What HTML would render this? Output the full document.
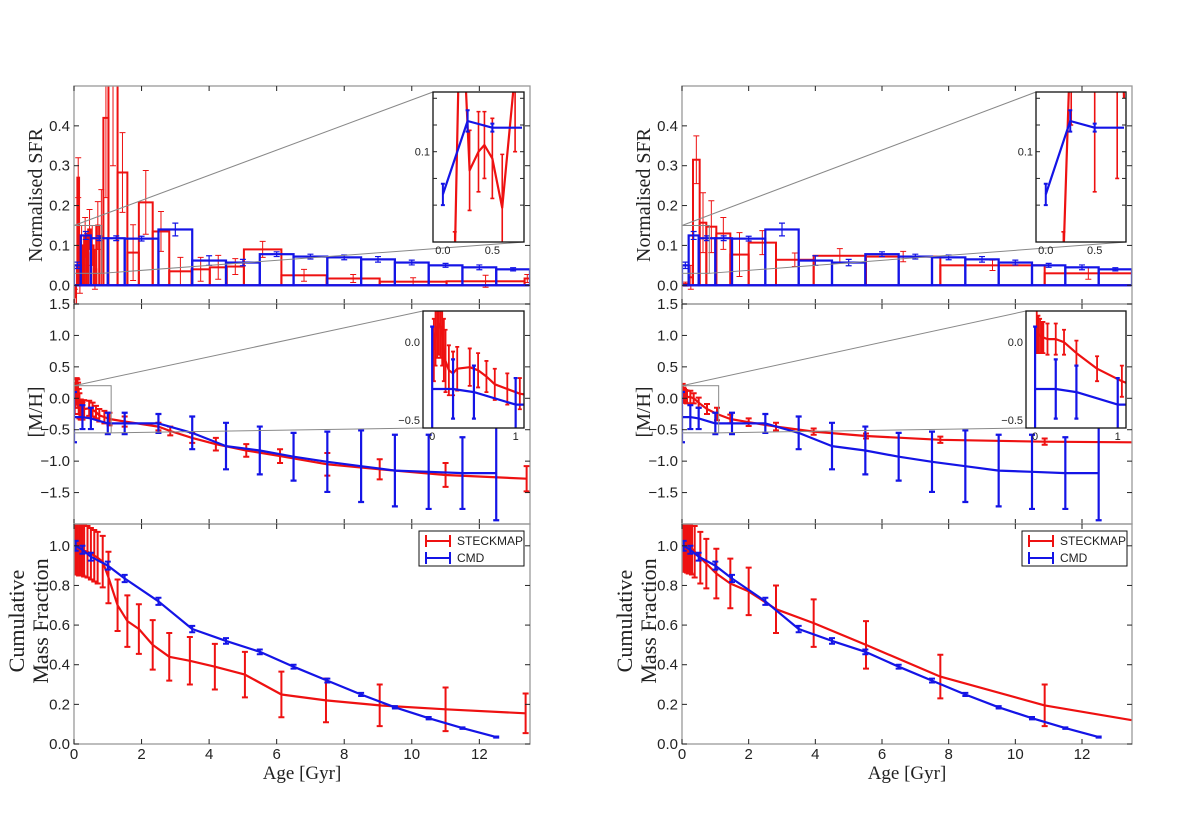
<!DOCTYPE html>
<html><head><meta charset="utf-8"><style>
html,body{margin:0;padding:0;background:#fff}
svg{display:block}
text{font-family:"Liberation Sans",sans-serif}
.lab{font-family:"Liberation Serif",serif;fill:#222}
</style></head><body>
<svg id="fig" width="1200" height="829" viewBox="0 0 1200 829" xmlns="http://www.w3.org/2000/svg"></svg>
<script>
// ---------- DATA ----------
const xTicks=[0,2,4,6,8,10,12];
const sfrTicks=[0,0.1,0.2,0.3,0.4];
const mhTicks=[1.5,1.0,0.5,0.0,-0.5,-1.0,-1.5];
const cumTicks=[0,0.2,0.4,0.6,0.8,1.0];
// CMD (blue) SFR histogram
const cmdEdges=[0,0.2,0.5,1,1.5,2.5,3.5,4.5,5.5,6.5,7.5,8.5,9.5,10.5,11.5,12.5,13.5];
const cmdSfr=[0.05,0.125,0.118,0.118,0.117,0.14,0.062,0.057,0.078,0.072,0.07,0.065,0.057,0.05,0.045,0.04];
const cmdSfrErr=[0.008,0.01,0.006,0.006,0.006,0.016,0.012,0.008,0.006,0.006,0.006,0.007,0.006,0.005,0.006,0.004];
// STECKMAP left SFR
const stkLEdges=[0,0.05,0.1,0.15,0.2,0.25,0.3,0.36,0.42,0.5,0.58,0.66,0.75,0.87,1.02,1.29,1.58,1.92,2.33,2.82,3.48,4.02,4.52,5.03,6.14,7.48,9.05,11.03,13.34,13.5];
const stkLSfr=[-0.03,0.0,0.27,0.03,0.1,0.05,0.12,0.08,0.14,0.1,0.04,0.15,0.12,0.42,0.6,0.283,0.082,0.208,0.135,0.035,0.04,0.045,0.047,0.09,0.025,0.017,0.009,0.01,0.017];
const stkLSfrErr=[0.02,0.05,0.05,0.05,0.05,0.05,0.05,0.05,0.05,0.05,0.05,0.06,0.12,0.2,0.3,0.1,0.07,0.08,0.05,0.035,0.03,0.03,0.02,0.02,0.015,0.01,0.01,0.015,0.01];
// STECKMAP right SFR
const stkREdges=[0,0.2,0.33,0.53,0.73,1.03,1.45,2.0,2.82,3.95,5.52,7.75,10.88,13.5];
const stkRSfr=[0.003,0.02,0.315,0.157,0.147,0.13,0.077,0.107,0.064,0.074,0.072,0.05,0.03];
const stkRSfrErr=[0.005,0.03,0.06,0.075,0.065,0.04,0.055,0.03,0.017,0.018,0.013,0.013,0.015];
// SFR insets
const insCmdX=[0.0,0.25,0.5,0.8];
const insCmdY=[0.068,0.123,0.118,0.118];
const insCmdErr=[0.008,0.008,0.003,0];
const insLX=[0.06,0.12,0.17,0.2,0.27,0.36,0.42,0.5,0.6,0.73,0.8];
const insLY=[0.0,0.02,0.2,0.2,0.086,0.1,0.105,0.095,0.058,0.16,0.2];
const insLErr=[0.02,0.02,0.05,0.05,0.03,0.03,0.025,0.03,0.04,0.06,0.05];
const insRX=[0.18,0.26,0.5,0.73,0.8];
const insRY=[0.02,0.2,0.3,0.3,0.14];
const insRErr=[0.02,0.08,0.23,0.22,0];
// [M/H]
const cmdMhX=[0.0,0.25,0.5,1,1.5,2.5,3.5,4.5,5.5,6.5,7.5,8.5,9.5,10.5,11.5,12.5];
const cmdMh=[-0.3,-0.3,-0.32,-0.4,-0.4,-0.4,-0.55,-0.76,-0.83,-0.93,-1.01,-1.08,-1.15,-1.17,-1.19,-1.19];
const cmdMhErr=[0.4,0.19,0.17,0.17,0.17,0.15,0.26,0.37,0.38,0.38,0.48,0.57,0.57,0.59,0.57,0.75];
const stkLMhX=[0.02,0.04,0.06,0.08,0.1,0.12,0.14,0.16,0.2,0.25,0.3,0.45,0.55,0.65,0.75,0.9,1.05,1.5,2.5,2.85,3.5,4.2,5.1,6.1,7.5,9.05,11.0,13.4];
const stkLMh=[-0.05,0.05,0.1,0.12,0.1,0.05,-0.05,-0.12,-0.18,-0.2,-0.17,-0.16,-0.18,-0.22,-0.27,-0.3,-0.33,-0.37,-0.45,-0.52,-0.63,-0.73,-0.83,-0.92,-1.05,-1.13,-1.22,-1.28];
const stkLMhErr=[0.2,0.2,0.2,0.2,0.2,0.2,0.2,0.2,0.16,0.14,0.14,0.12,0.11,0.1,0.1,0.1,0.1,0.08,0.06,0.07,0.08,0.1,0.1,0.11,0.18,0.16,0.19,0.2];
const stkRMhX=[0.02,0.04,0.06,0.08,0.1,0.15,0.25,0.35,0.5,0.75,1.05,1.45,2.0,2.82,3.95,5.52,7.75,10.88,13.5];
const stkRMh=[0.08,0.05,0.04,0.03,0.03,0.02,0.02,0.0,-0.07,-0.17,-0.25,-0.33,-0.38,-0.45,-0.53,-0.6,-0.66,-0.69,-0.7];
const stkRMhErr=[0.15,0.12,0.11,0.1,0.1,0.1,0.1,0.08,0.08,0.08,0.1,0.07,0.06,0.06,0.05,0.04,0.05,0.05,0];
// Cumulative mass fraction
const cmdCumX=[0.05,0.25,0.5,1,1.5,2.5,3.5,4.5,5.5,6.5,7.5,8.5,9.5,10.5,11.5,12.5];
const cmdCum=[1.0,0.98,0.945,0.9,0.835,0.72,0.58,0.52,0.465,0.39,0.32,0.25,0.185,0.13,0.08,0.035];
const cmdCumErr=[0.025,0.02,0.02,0.02,0.018,0.018,0.016,0.014,0.012,0.01,0.01,0.008,0.006,0.006,0.004,0.003];
const stkLCumX=[0.02,0.06,0.1,0.15,0.2,0.25,0.3,0.4,0.5,0.6,0.7,0.85,1.02,1.29,1.58,1.92,2.33,2.82,3.43,4.17,5.06,6.14,7.46,9.05,11.0,13.37];
const stkLCum=[1.0,1.0,0.995,0.99,0.985,0.98,0.975,0.97,0.96,0.95,0.94,0.92,0.84,0.7,0.62,0.58,0.5,0.44,0.42,0.39,0.35,0.25,0.22,0.195,0.175,0.155];
const stkLCumErr=[0.14,0.14,0.14,0.14,0.13,0.13,0.13,0.13,0.13,0.13,0.13,0.13,0.13,0.13,0.13,0.125,0.125,0.12,0.12,0.115,0.115,0.115,0.11,0.105,0.11,0.1];
const stkRCumX=[0.02,0.05,0.1,0.15,0.2,0.25,0.3,0.38,0.55,0.73,1.03,1.45,2.0,2.82,3.95,5.52,7.75,10.88,13.5];
const stkRCum=[1.0,1.0,1.0,0.995,0.99,0.99,0.985,0.97,0.94,0.91,0.86,0.81,0.77,0.68,0.61,0.5,0.34,0.195,0.12];
const stkRCumErr=[0.13,0.13,0.13,0.13,0.13,0.13,0.13,0.13,0.13,0.125,0.125,0.125,0.12,0.12,0.12,0.12,0.11,0.105,0];

// ---------- DRAWING ----------
const NS="http://www.w3.org/2000/svg";
const svg=document.getElementById('fig');
const RED="#ee1111", BLUE="#1414e6";
let clipN=0;
function mk(tag,parent){const e=document.createElementNS(NS,tag);parent.appendChild(e);return e;}
function attrs(e,o){for(const k in o)e.setAttribute(k,o[k]);return e;}
function scale(d0,d1,r0,r1){return v=>r0+(v-d0)/(d1-d0)*(r1-r0);}
function clipGroup(x,y,w,h,parent){
  const id='c'+(clipN++);
  const cp=attrs(mk('clipPath',parent),{id:id});
  attrs(mk('rect',cp),{x:x,y:y,width:w,height:h});
  const g=attrs(mk('g',parent),{'clip-path':'url(#'+id+')'});
  return g;
}
function polyline(g,sx,sy,xs,ys,color,w,name){
  const p=mk('polyline',g);
  
  
  attrs(p,{points:xs.map((x,i)=>sx(x).toFixed(1)+','+sy(ys[i]).toFixed(1)).join(' '),fill:'none',stroke:color,'stroke-width':w,'stroke-linejoin':'round'});
}
function errbars(g,sx,sy,xs,ys,es,color,w,cap,name){
  xs.forEach((x,i)=>{
    if(!es[i])return;
    const X=sx(x),y1=sy(ys[i]-es[i]),y2=sy(ys[i]+es[i]);
    const p=mk('path',g);
    
    
    attrs(p,{d:`M${X},${y1}V${y2}M${X-cap},${y1}h${2*cap}M${X-cap},${y2}h${2*cap}`,stroke:color,'stroke-width':w,fill:'none'});
  });
}
function hist(g,sx,sy,edges,hs,color,w,name){
  hs.forEach((h,i)=>{
    const x0=sx(edges[i]),x1=sx(edges[i+1]),y0=sy(0),y1=sy(h);
    const r=mk('rect',g);
    
    
    attrs(r,{x:x0,y:Math.min(y0,y1),width:x1-x0,height:Math.abs(y1-y0),fill:'none',stroke:color,'stroke-width':w});
  });
}
function txt(parent,x,y,s,size,anchor,name,cls){
  const t=mk('text',parent);
  
  
  attrs(t,{x:x,y:y,'font-size':size,'text-anchor':anchor||'middle',fill:'#222'});
  if(cls)t.setAttribute('class',cls);
  t.textContent=s;return t;
}
function frame(parent,x,y,w,h,color,name){
  const r=mk('rect',parent);
  
  
  attrs(r,{x:x,y:y,width:w,height:h,fill:'none',stroke:color,'stroke-width':1.3});
}
function line(parent,x1,y1,x2,y2,color,w,name){
  const l=mk('line',parent);
  
  
  attrs(l,{x1:x1,y1:y1,x2:x2,y2:y2,stroke:color,'stroke-width':w});
}
function fmt(v,d){return (v<0?'\u2212':'')+Math.abs(v).toFixed(d);}

const PY=[[86,304],[304,524],[524,744]];
const figs=[
 {x0:74,x1:530,side:'left',stk:{edges:stkLEdges,sfr:stkLSfr,err:stkLSfrErr,mhx:stkLMhX,mh:stkLMh,mhe:stkLMhErr,cx:stkLCumX,c:stkLCum,ce:stkLCumErr,ix:insLX,iy:insLY,ie:insLErr},
  insS:[433,92,524,242,0.82],insM:[423,311,524,428]},
 {x0:682,x1:1132,side:'right',stk:{edges:stkREdges,sfr:stkRSfr,err:stkRSfrErr,mhx:stkRMhX,mh:stkRMh,mhe:stkRMhErr,cx:stkRCumX,c:stkRCum,ce:stkRCumErr,ix:insRX,iy:insRY,ie:insRErr},
  insS:[1036,92,1126,242,0.82],insM:[1026,311,1126,428]}
];

figs.forEach(F=>{
  const G=mk('g',svg);
  
  
  const sx=scale(0,13.5,F.x0,F.x1);
  const W=F.x1-F.x0;
  const yr=[[-0.047,0.5],[-2.0,1.5],[0,1.11]];
  const ticks=[sfrTicks,mhTicks,cumTicks];
  const names=['sfr','metallicity','cumulative'];
  for(let p=0;p<3;p++){
    const [ya,yb]=PY[p];
    const sy=scale(yr[p][0],yr[p][1],yb,ya);
    const pg=mk('g',G);
    
    
    const cg=clipGroup(F.x0,ya,W,yb-ya,pg);
    const S=F.stk;
    if(p===0){
      hist(cg,sx,sy,S.edges,S.sfr,RED,2,'steckmap-sfr-bar');
      errbars(cg,sx,sy,S.edges.slice(0,-1).map((e,i)=>(e+S.edges[i+1])/2),S.sfr,S.err,RED,1,3,'steckmap-sfr-error');
      hist(cg,sx,sy,cmdEdges,cmdSfr,BLUE,2.2,'cmd-sfr-bar');
      errbars(cg,sx,sy,cmdEdges.slice(0,-1).map((e,i)=>(e+cmdEdges[i+1])/2),cmdSfr,cmdSfrErr,BLUE,1.2,3,'cmd-sfr-error');
      line(cg,F.x0,sy(0),F.x1,sy(0),BLUE,2,'sfr-zero-line');
      const [ix0,iy0,ix1,iy1,xm]=F.insS;
      const r=mk('rect',pg);
      
      
      attrs(r,{x:sx(0),y:sy(0.15),width:sx(xm)-sx(0),height:sy(0.03)-sy(0.15),fill:'none',stroke:'#888','stroke-width':1});
      line(pg,sx(0),sy(0.15),ix0,iy0,'#888',1,'sfr-zoom-connector');
      line(pg,sx(xm),sy(0.03),ix1,iy1,'#888',1,'sfr-zoom-connector');
    } else if(p===1){
      polyline(cg,sx,sy,S.mhx,S.mh,RED,2.2,'steckmap-metallicity-line');
      errbars(cg,sx,sy,S.mhx,S.mh,S.mhe,RED,2,3,'steckmap-metallicity-error');
      polyline(cg,sx,sy,cmdMhX,cmdMh,BLUE,2.2,'cmd-metallicity-line');
      errbars(cg,sx,sy,cmdMhX,cmdMh,cmdMhErr,BLUE,2.2,3,'cmd-metallicity-error');
      const [ix0,iy0,ix1,iy1]=F.insM;
      const r=mk('rect',pg);
      
      
      attrs(r,{x:sx(0),y:sy(0.2),width:sx(1.1)-sx(0),height:sy(-0.55)-sy(0.2),fill:'none',stroke:'#888','stroke-width':1});
      line(pg,sx(0),sy(0.2),ix0,iy0,'#888',1,'metallicity-zoom-connector');
      line(pg,sx(1.1),sy(-0.55),ix0,iy1,'#888',1,'metallicity-zoom-connector');
    } else {
      polyline(cg,sx,sy,S.cx,S.c,RED,2.2,'steckmap-cumulative-line');
      errbars(cg,sx,sy,S.cx,S.c,S.ce,RED,2,3,'steckmap-cumulative-error');
      polyline(cg,sx,sy,cmdCumX,cmdCum,BLUE,2.2,'cmd-cumulative-line');
      errbars(cg,sx,sy,cmdCumX,cmdCum,cmdCumErr,BLUE,2,3,'cmd-cumulative-error');
    }
    frame(pg,F.x0,ya,W,yb-ya,'#999',F.side+'-'+names[p]+'-frame');
    xTicks.forEach(t=>{
      line(pg,sx(t),ya,sx(t),ya+5,'#222',1,'x-tick');
      line(pg,sx(t),yb,sx(t),yb-5,'#222',1,'x-tick');
    });
    ticks[p].forEach(t=>{
      line(pg,F.x0,sy(t),F.x0+5,sy(t),'#222',1,'y-tick');
      line(pg,F.x1,sy(t),F.x1-5,sy(t),'#222',1,'y-tick');
      txt(pg,F.x0-4,sy(t)+5,fmt(t,1),15,'end','y-tick-label');
    });
  }
  xTicks.forEach(t=>txt(G,sx(t),759,String(t),15,'middle','x-tick-label'));
  txt(G,(F.x0+F.x1)/2,779,'Age [Gyr]',19,'middle','x-axis-title','lab');
  let t=txt(G,0,0,'Normalised SFR',20,'middle','sfr-axis-title','lab');
  t.setAttribute('transform',`translate(${F.x0-32},195) rotate(-90)`);
  t=txt(G,0,0,'[M/H]',20,'middle','metallicity-axis-title','lab');
  t.setAttribute('transform',`translate(${F.x0-32},412) rotate(-90)`);
  t=txt(G,0,0,'Cumulative',22,'middle','cumulative-axis-title-line1','lab');
  t.setAttribute('transform',`translate(${F.x0-50},621) rotate(-90)`);
  t=txt(G,0,0,'Mass Fraction',22,'middle','cumulative-axis-title-line2','lab');
  t.setAttribute('transform',`translate(${F.x0-26},621) rotate(-90)`);

  {
    const [ix0,iy0,ix1,iy1,xm]=F.insS;
    const ig=mk('g',G);
    
    
    attrs(mk('rect',ig),{x:ix0,y:iy0,width:ix1-ix0,height:iy1-iy0,fill:'#fff'});
    const isx=scale(-0.1,xm,ix0,ix1), isy=scale(0.0324,0.1447,iy1,iy0);
    const cg=clipGroup(ix0,iy0,ix1-ix0,iy1-iy0,ig);
    polyline(cg,isx,isy,F.stk.ix,F.stk.iy,RED,2.2,'steckmap-inset-line');
    errbars(cg,isx,isy,F.stk.ix,F.stk.iy,F.stk.ie,RED,1.6,2,'steckmap-inset-error');
    polyline(cg,isx,isy,insCmdX,insCmdY,BLUE,2.2,'cmd-inset-line');
    errbars(cg,isx,isy,insCmdX,insCmdY,insCmdErr,BLUE,2,2,'cmd-inset-error');
    frame(ig,ix0,iy0,ix1-ix0,iy1-iy0,'#111','sfr-inset-frame');
    [0.06,0.08,0.1,0.12,0.14].forEach(v=>{line(ig,ix0,isy(v),ix0+4,isy(v),'#222',1,'inset-tick');line(ig,ix1,isy(v),ix1-4,isy(v),'#222',1,'inset-tick');});
    txt(ig,ix0-3,isy(0.1)+4,'0.1',11,'end','inset-y-label');
    [0,0.5].forEach(v=>txt(ig,isx(v),iy1+12,v.toFixed(1),11,'middle','inset-x-label'));
  }
  {
    const [ix0,iy0,ix1,iy1]=F.insM;
    const ig=mk('g',G);
    
    
    attrs(mk('rect',ig),{x:ix0,y:iy0,width:ix1-ix0,height:iy1-iy0,fill:'#fff'});
    const isx=scale(-0.11,1.1,ix0,ix1), isy=scale(-0.55,0.2,iy1,iy0);
    const cg=clipGroup(ix0,iy0,ix1-ix0,iy1-iy0,ig);
    polyline(cg,isx,isy,F.stk.mhx,F.stk.mh,RED,2.2,'steckmap-inset-line');
    errbars(cg,isx,isy,F.stk.mhx,F.stk.mh,F.stk.mhe,RED,1.8,2,'steckmap-inset-error');
    polyline(cg,isx,isy,cmdMhX,cmdMh,BLUE,2.2,'cmd-inset-line');
    errbars(cg,isx,isy,cmdMhX,cmdMh,cmdMhErr,BLUE,2.2,2,'cmd-inset-error');
    frame(ig,ix0,iy0,ix1-ix0,iy1-iy0,'#111','metallicity-inset-frame');
    txt(ig,ix0-3,isy(0)+4,'0.0',11,'end','inset-y-label');
    txt(ig,ix0-3,isy(-0.5)+4,'\u22120.5',11,'end','inset-y-label');
    [0,1].forEach(v=>txt(ig,isx(v),iy1+12,String(v),11,'middle','inset-x-label'));
  }
  {
    const lx=F.side==='left'?419:1022, ly=531;
    const lg=mk('g',G);
    
    
    attrs(mk('rect',lg),{x:lx,y:ly,width:105,height:35,fill:'#fff',stroke:'#111','stroke-width':1});
    [[RED,'STECKMAP',ly+10],[BLUE,'CMD',ly+27]].forEach(([c,s,yy])=>{
      const p=mk('path',lg);
      
      
      attrs(p,{d:`M${lx+7},${yy}h24M${lx+7},${yy-6}v12M${lx+31},${yy-6}v12`,stroke:c,'stroke-width':2,fill:'none'});
      txt(lg,lx+38,yy+4,s,12,'start','legend-entry-label');
    });
  }
});
</script>
</body></html>
